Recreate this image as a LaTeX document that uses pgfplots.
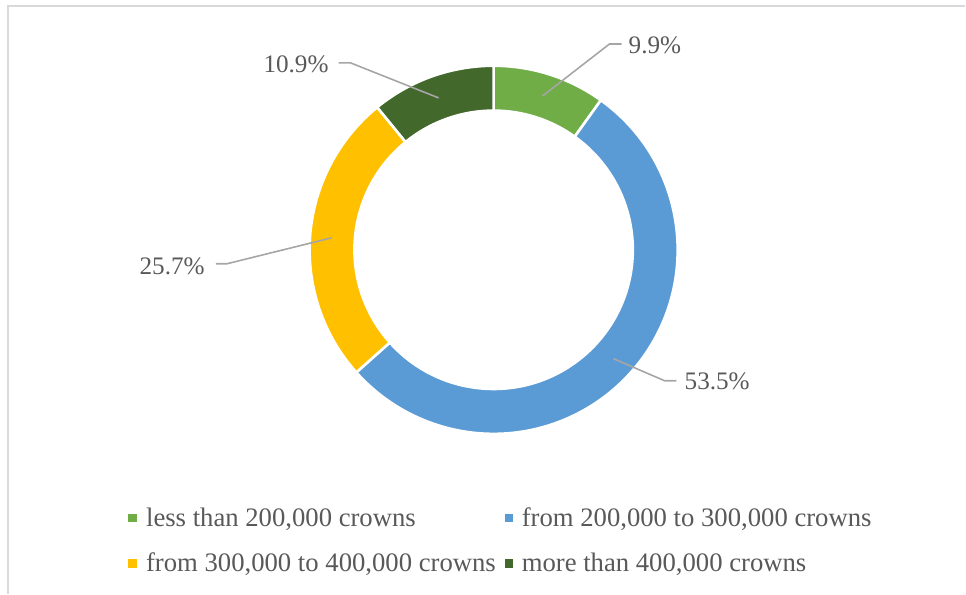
\documentclass[border=0pt]{standalone}
\usepackage{pgfplots}
\pgfplotsset{compat=1.18}
\usepackage{pgfplotstable}
\usepackage{fontspec}
\setmainfont{Liberation Serif}

\definecolor{cA}{HTML}{70AD47}
\definecolor{cB}{HTML}{5B9BD5}
\definecolor{cC}{HTML}{FFC000}
\definecolor{cD}{HTML}{43682B}
\definecolor{txt}{HTML}{595959}
\definecolor{lead}{HTML}{A6A6A6}
\definecolor{frm}{HTML}{D9D9D9}

\pgfplotstableread[col sep=semicolon]{
label;value
less than 200,000 crowns;9.9
from 200,000 to 300,000 crowns;53.5
from 300,000 to 400,000 crowns;25.7
more than 400,000 crowns;10.9
}\data

\pgfplotstablegetelem{0}{value}\of\data \let\vA\pgfplotsretval
\pgfplotstablegetelem{1}{value}\of\data \let\vB\pgfplotsretval
\pgfplotstablegetelem{2}{value}\of\data \let\vC\pgfplotsretval
\pgfplotstablegetelem{3}{value}\of\data \let\vD\pgfplotsretval
\pgfplotstablegetelem{0}{label}\of\data \let\lA\pgfplotsretval
\pgfplotstablegetelem{1}{label}\of\data \let\lB\pgfplotsretval
\pgfplotstablegetelem{2}{label}\of\data \let\lC\pgfplotsretval
\pgfplotstablegetelem{3}{label}\of\data \let\lD\pgfplotsretval

\pgfmathsetmacro\aA{90}
\pgfmathsetmacro\aB{\aA-3.6*\vA}
\pgfmathsetmacro\aC{\aB-3.6*\vB}
\pgfmathsetmacro\aD{\aC-3.6*\vC}
\pgfmathsetmacro\aE{\aD-3.6*\vD}

\def\Ro{184.2}
\def\Ri{139.3}
\newcommand\slice[3]{%
  \filldraw[fill=#1, draw=white, line width=2.6pt]
    ([shift={(#2:\Ro pt)}]axis cs:494,344)
    arc[start angle=#2, end angle=#3, radius=\Ro pt]
    -- ([shift={(#3:\Ri pt)}]axis cs:494,344)
    arc[start angle=#3, end angle=#2, radius=\Ri pt] -- cycle;}

\begin{document}
\begin{tikzpicture}
\begin{axis}[scale only axis, width=966pt, height=594pt,
  xmin=0, xmax=966, ymin=0, ymax=594, hide axis, clip=false]
\path (axis cs:0,0) rectangle (axis cs:966,594);
\draw[frm, line width=1.5pt] (axis cs:8,0) -- (axis cs:8,588) -- (axis cs:966,588);

\slice{cA}{\aA}{\aB}
\slice{cB}{\aB}{\aC}
\slice{cC}{\aC}{\aD}
\slice{cD}{\aD}{\aE}

% leader lines
\draw[lead, line width=1.6pt] (axis cs:543,498) -- (axis cs:610,550) -- (axis cs:622,550);
\draw[lead, line width=1.6pt] (axis cs:439,496) -- (axis cs:351,531) -- (axis cs:339,531);
\draw[lead, line width=1.6pt] (axis cs:332,356) -- (axis cs:227,330) -- (axis cs:216,330);
\draw[lead, line width=1.6pt] (axis cs:614,235) -- (axis cs:665,213) -- (axis cs:677,213);

\tikzset{lbl/.style={inner sep=0pt, text=txt, font=\fontsize{25.2}{30}\selectfont}}
\node[lbl, anchor=base west] at (axis cs:629,540) {\vA\%};
\node[lbl, anchor=base east] at (axis cs:329,521) {\vD\%};
\node[lbl, anchor=base east] at (axis cs:205,319) {\vC\%};
\node[lbl, anchor=base west] at (axis cs:685,204) {\vB\%};

% legend
\tikzset{leg/.style={inner sep=0pt, text=txt, font=\fontsize{26.7}{32}\selectfont}}
\fill[cA] (axis cs:128,72) rectangle (axis cs:137,80);
\node[leg, anchor=base west] at (axis cs:146,67) {\lA};
\fill[cB] (axis cs:505,72) rectangle (axis cs:513,80);
\node[leg, anchor=base west] at (axis cs:522,67) {\lB};
\fill[cC] (axis cs:128,26) rectangle (axis cs:137,35);
\node[leg, anchor=base west] at (axis cs:146,22) {\lC};
\fill[cD] (axis cs:505,26) rectangle (axis cs:513,35);
\node[leg, anchor=base west] at (axis cs:522,22) {\lD};
\end{axis}
\end{tikzpicture}
\end{document}
